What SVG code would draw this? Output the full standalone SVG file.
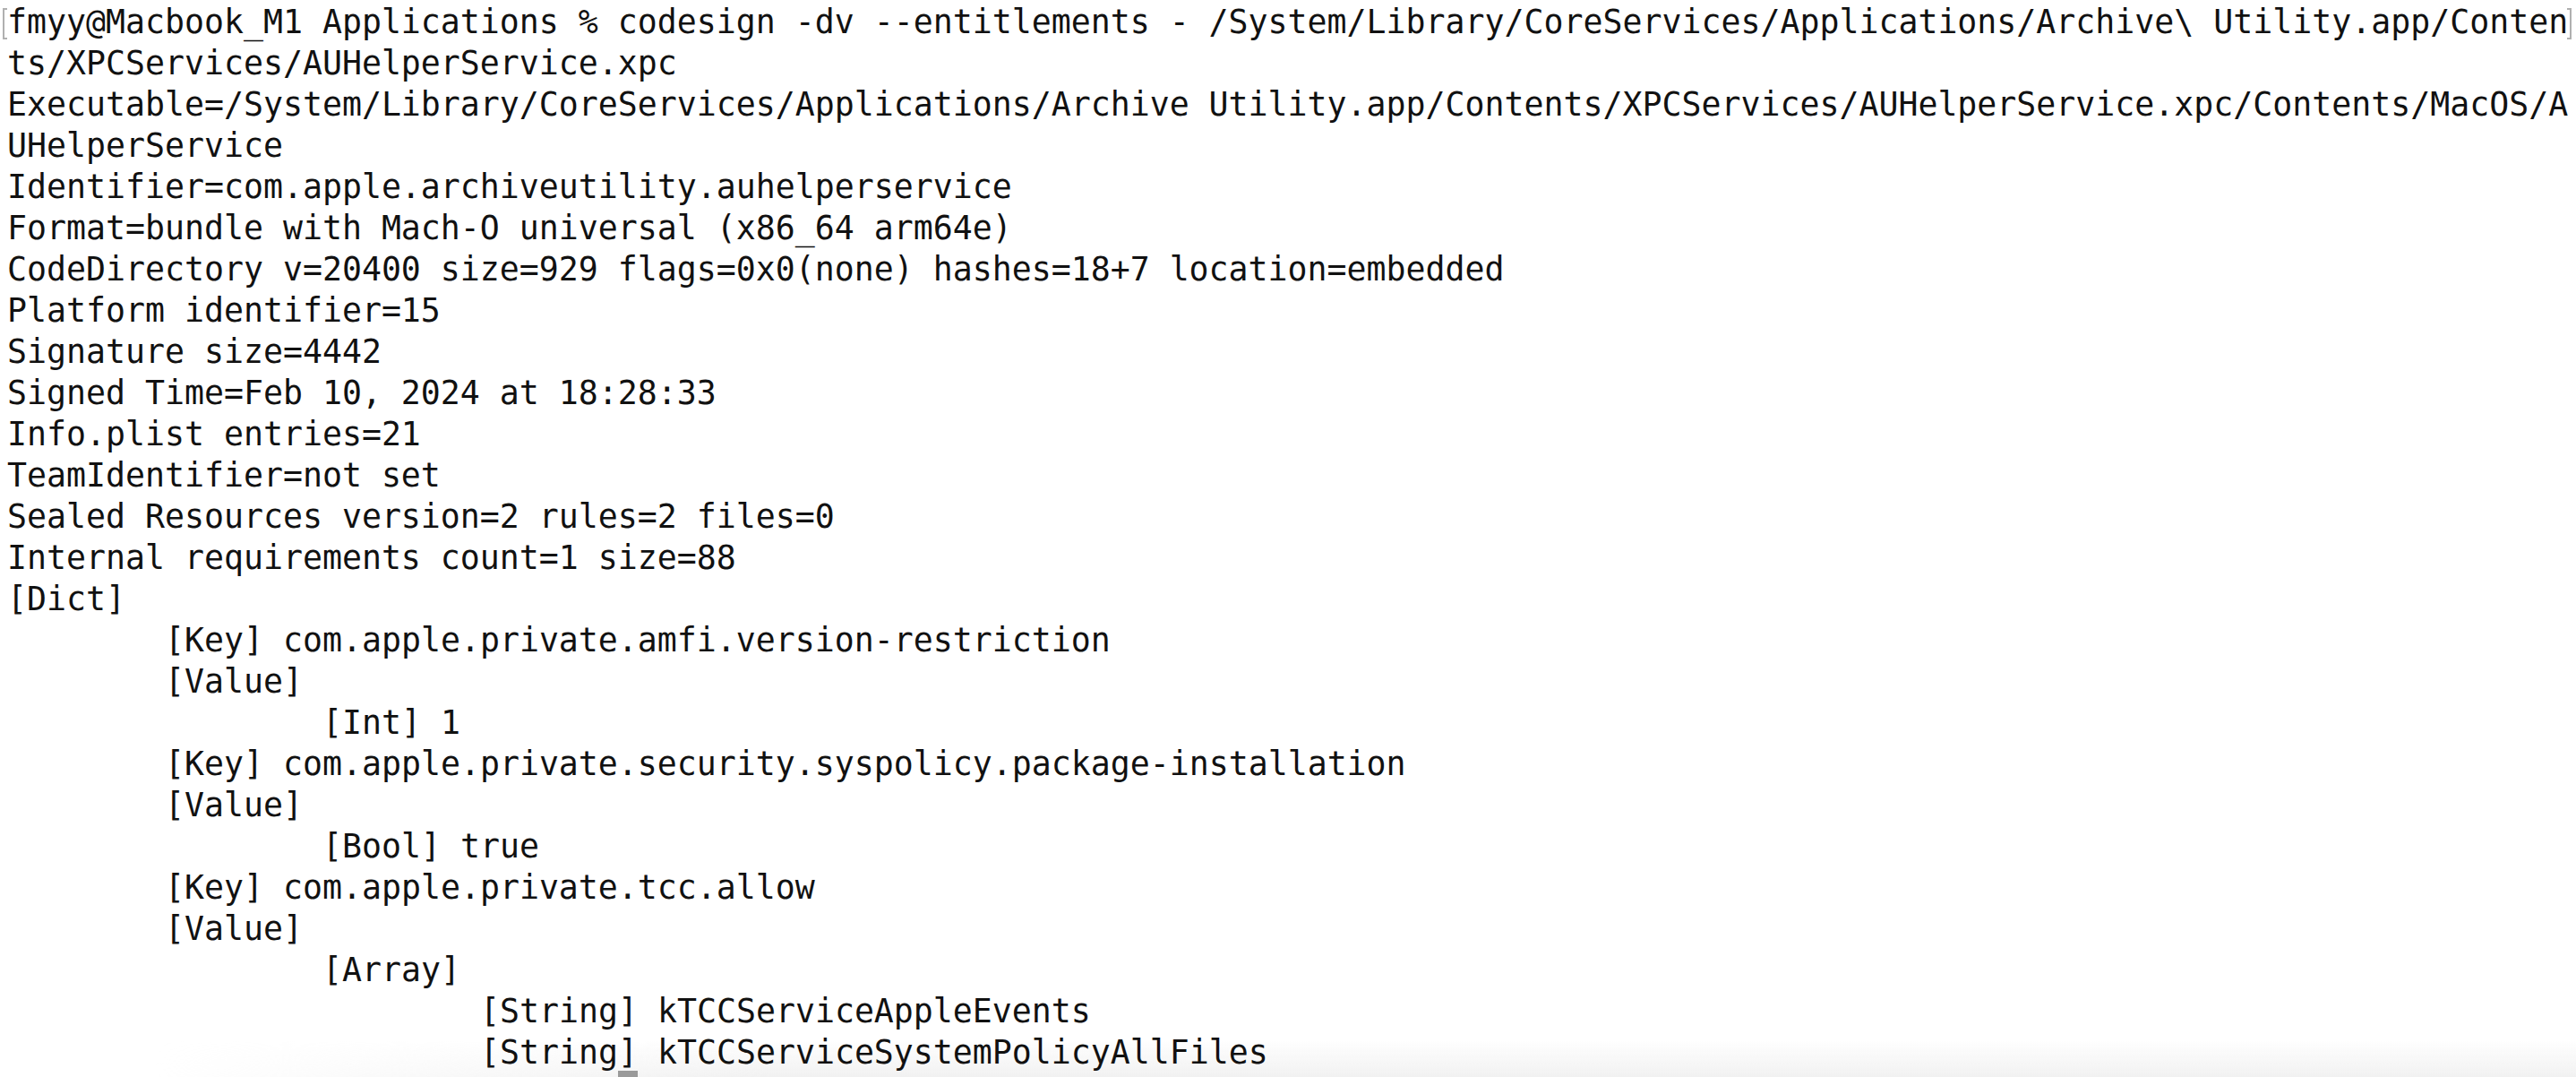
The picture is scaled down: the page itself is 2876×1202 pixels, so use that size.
<svg xmlns="http://www.w3.org/2000/svg" width="2876" height="1202" viewBox="0 0 2876 1202">
<style>
text{font-family:"DejaVu Sans Mono","Liberation Mono",monospace;font-size:36.54px;fill:#111;white-space:pre}
.mark{fill:none;stroke:#b0b0b0;stroke-width:2}
</style>
<defs>
<linearGradient id="fadeV" x1="0" y1="0" x2="0" y2="1">
<stop offset="0" stop-color="#eeeeee" stop-opacity="0"/>
<stop offset="1" stop-color="#eeeeee" stop-opacity="0.8"/>
</linearGradient>
<linearGradient id="fadeH" x1="0" y1="0" x2="1" y2="0">
<stop offset="0" stop-color="#fff" stop-opacity="0"/>
<stop offset="0.06" stop-color="#fff" stop-opacity="0"/>
<stop offset="0.3" stop-color="#fff" stop-opacity="1"/>
<stop offset="1" stop-color="#fff" stop-opacity="1"/>
</linearGradient>
<mask id="m" maskUnits="userSpaceOnUse" x="0" y="1150" width="2876" height="52">
<rect x="0" y="1150" width="2876" height="52" fill="url(#fadeH)"/>
</mask>
</defs>
<rect width="2876" height="1202" fill="#ffffff"/>
<rect x="0" y="1160" width="2876" height="42" fill="url(#fadeV)" mask="url(#m)"/>
<g id="marks">
<path class="mark" d="M8,10 H4 V43 H8"/>
<path class="mark" d="M2866,10 H2870 V43 H2866"/>
<rect x="690" y="1195" width="22" height="7" fill="#9a9a9a"/>
</g>
<g id="terminal">
<text x="8" y="36.7">fmyy@Macbook_M1 Applications % codesign -dv --entitlements - /System/Library/CoreServices/Applications/Archive\ Utility.app/Conten</text>
<text x="8" y="82.7">ts/XPCServices/AUHelperService.xpc</text>
<text x="8" y="128.7">Executable=/System/Library/CoreServices/Applications/Archive Utility.app/Contents/XPCServices/AUHelperService.xpc/Contents/MacOS/A</text>
<text x="8" y="174.7">UHelperService</text>
<text x="8" y="220.7">Identifier=com.apple.archiveutility.auhelperservice</text>
<text x="8" y="266.7">Format=bundle with Mach-O universal (x86_64 arm64e)</text>
<text x="8" y="312.7">CodeDirectory v=20400 size=929 flags=0x0(none) hashes=18+7 location=embedded</text>
<text x="8" y="358.7">Platform identifier=15</text>
<text x="8" y="404.7">Signature size=4442</text>
<text x="8" y="450.7">Signed Time=Feb 10, 2024 at 18:28:33</text>
<text x="8" y="496.7">Info.plist entries=21</text>
<text x="8" y="542.7">TeamIdentifier=not set</text>
<text x="8" y="588.7">Sealed Resources version=2 rules=2 files=0</text>
<text x="8" y="634.7">Internal requirements count=1 size=88</text>
<text x="8" y="680.7">[Dict]</text>
<text x="184" y="726.7">[Key] com.apple.private.amfi.version-restriction</text>
<text x="184" y="772.7">[Value]</text>
<text x="360" y="818.7">[Int] 1</text>
<text x="184" y="864.7">[Key] com.apple.private.security.syspolicy.package-installation</text>
<text x="184" y="910.7">[Value]</text>
<text x="360" y="956.7">[Bool] true</text>
<text x="184" y="1002.7">[Key] com.apple.private.tcc.allow</text>
<text x="184" y="1048.7">[Value]</text>
<text x="360" y="1094.7">[Array]</text>
<text x="536" y="1140.7">[String] kTCCServiceAppleEvents</text>
<text x="536" y="1186.7">[String] kTCCServiceSystemPolicyAllFiles</text>
</g>
</svg>
